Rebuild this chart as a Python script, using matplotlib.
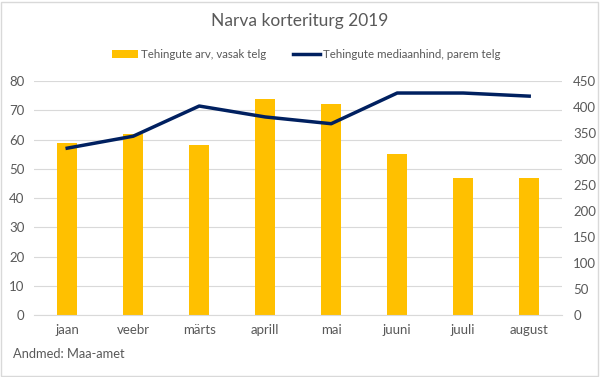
import matplotlib.pyplot as plt
import numpy as np
from matplotlib.patches import Rectangle

plt.rcParams['font.family'] = ['Lato', 'DejaVu Sans']

kuud = ['jaan', 'veebr', 'märts', 'aprill', 'mai', 'juuni', 'juuli', 'august']
tehingute_arv = [59, 62, 58, 74, 72, 55, 47, 47]
mediaanhind = [321, 344, 402, 381, 368, 427, 427, 421]

hall = '#595959'
kollane = '#FFC000'
sinine = '#002060'

fig = plt.figure(figsize=(6, 3.77), dpi=100)
ax = fig.add_axes([0.057, 0.164, 0.88, 0.621])
ax2 = ax.twinx()

x = np.arange(len(kuud))
ax.bar(x, tehingute_arv, width=0.3, color=kollane, label='Tehingute arv, vasak telg', zorder=2)
ax2.plot(x, mediaanhind, color=sinine, lw=2.5, label='Tehingute mediaanhind, parem telg', zorder=3)

ax.set_ylim(0, 80)
ax.set_yticks(range(0, 81, 10))
ax2.set_ylim(0, 450)
ax2.set_yticks(range(0, 451, 50))
ax.set_xlim(-0.5, len(kuud) - 0.5)
ax.set_xticks(x)
ax.set_xticklabels(kuud)
ax.grid(axis='y', color='#D9D9D9', lw=0.8, zorder=0)
ax.set_axisbelow(True)

for a in (ax, ax2):
    for s in a.spines.values():
        s.set_visible(False)
    a.tick_params(length=0, labelsize=9.5, colors=hall, pad=6)
ax.spines['bottom'].set_visible(True)
ax.spines['bottom'].set_color('#D9D9D9')
ax.tick_params(axis='x', pad=6)
ax.tick_params(axis='y', pad=7)
ax2.tick_params(axis='y', pad=8)

h1, l1 = ax.get_legend_handles_labels()
h2, l2 = ax2.get_legend_handles_labels()
fig.legend(h1 + h2, l1 + l2, loc='center', bbox_to_anchor=(0.51, 0.855), ncol=2,
           frameon=False, fontsize=8.3, labelcolor=hall, handlelength=2.3,
           handletextpad=0.25, columnspacing=2.3)

fig.text(0.5, 0.945, 'Narva korteriturg 2019', ha='center', va='center', fontsize=12.5, color=hall)
fig.text(0.022, 0.061, 'Andmed: Maa-amet', ha='left', va='center', fontsize=9.3, color=hall)

fig.patches.append(Rectangle((0.002, 0.003), 0.995, 0.993, transform=fig.transFigure,
                             fill=False, edgecolor='#D9D9D9', lw=1))

fig.savefig('out.png', dpi=100)
